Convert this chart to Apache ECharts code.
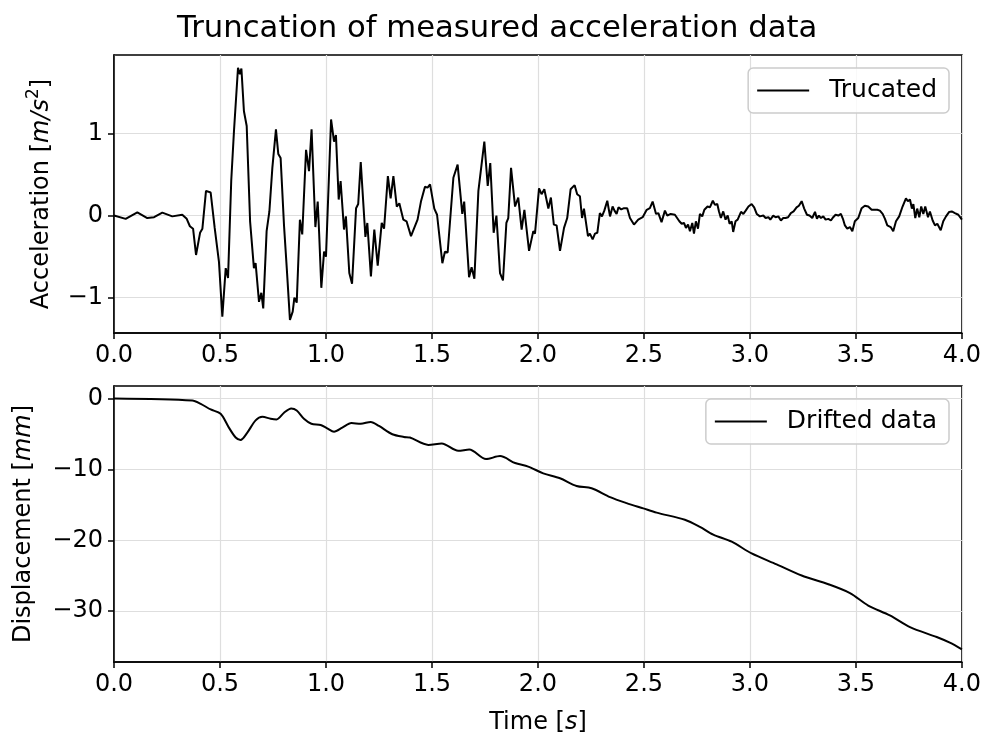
<!DOCTYPE html>
<html>
<head>
<meta charset="utf-8">
<script src="https://cdn.jsdelivr.net/npm/echarts@6/dist/echarts.min.js"></script>
<style>
html,body{margin:0;padding:0;background:#fff;}
#chart{width:984px;height:736px;}
</style>
</head>
<body>
<div id="chart"></div>
<script>
// ---- Data ----
var titleText = 'Truncation of measured acceleration data';
var accelName = 'Trucated';
var dispName = 'Drifted data';

var accelTime = [
  0, 0.055, 0.11, 0.157, 0.189, 0.228, 0.275, 0.322, 0.343, 0.358,
  0.373, 0.387, 0.406, 0.417, 0.434, 0.456, 0.475, 0.495, 0.511, 0.527,
  0.538, 0.553, 0.566, 0.585, 0.594, 0.601, 0.613, 0.626, 0.642, 0.660,
  0.668, 0.684, 0.695, 0.704, 0.720, 0.733, 0.747, 0.764, 0.775, 0.786,
  0.802, 0.815, 0.830, 0.843, 0.851, 0.862, 0.877, 0.888, 0.906, 0.920,
  0.932, 0.950, 0.961, 0.968, 0.978, 0.991, 1.000, 1.024, 1.038, 1.047,
  1.060, 1.069, 1.085, 1.094, 1.110, 1.123, 1.142, 1.152, 1.164, 1.186,
  1.195, 1.212, 1.228, 1.244, 1.263, 1.274, 1.292, 1.305, 1.318, 1.334,
  1.346, 1.365, 1.380, 1.389, 1.401, 1.432, 1.448, 1.467, 1.479, 1.491,
  1.511, 1.524, 1.549, 1.561, 1.574, 1.601, 1.621, 1.643, 1.652, 1.675,
  1.687, 1.700, 1.719, 1.747, 1.763, 1.775, 1.791, 1.804, 1.821, 1.835,
  1.851, 1.860, 1.873, 1.892, 1.907, 1.923, 1.936, 1.958, 1.978, 1.986,
  2.005, 2.017, 2.030, 2.049, 2.061, 2.075, 2.088, 2.104, 2.123, 2.138,
  2.154, 2.173, 2.185, 2.198, 2.208, 2.217, 2.236, 2.245, 2.258, 2.269,
  2.280, 2.292, 2.302, 2.313, 2.327, 2.340, 2.352, 2.361, 2.371, 2.380,
  2.393, 2.406, 2.421, 2.434, 2.453, 2.473, 2.494, 2.513, 2.528, 2.541,
  2.557, 2.568, 2.583, 2.599, 2.610, 2.626, 2.646, 2.667, 2.678, 2.689,
  2.698, 2.708, 2.717, 2.728, 2.736, 2.745, 2.755, 2.764, 2.775, 2.785,
  2.800, 2.811, 2.825, 2.835, 2.846, 2.854, 2.863, 2.874, 2.885, 2.895,
  2.904, 2.914, 2.921, 2.932, 2.942, 2.958, 2.969, 2.980, 2.993, 3.008,
  3.020, 3.032, 3.047, 3.063, 3.074, 3.087, 3.096, 3.110, 3.121, 3.134,
  3.146, 3.157, 3.168, 3.180, 3.193, 3.206, 3.220, 3.231, 3.244, 3.256,
  3.269, 3.281, 3.294, 3.307, 3.316, 3.325, 3.335, 3.346, 3.357, 3.370,
  3.382, 3.393, 3.404, 3.417, 3.429, 3.440, 3.448, 3.459, 3.472, 3.483,
  3.495, 3.511, 3.527, 3.542, 3.558, 3.574, 3.590, 3.601, 3.613, 3.626,
  3.637, 3.648, 3.664, 3.676, 3.689, 3.704, 3.720, 3.736, 3.745, 3.755,
  3.764, 3.771, 3.780, 3.789, 3.799, 3.808, 3.818, 3.827, 3.840, 3.849,
  3.862, 3.873, 3.884, 3.900, 3.912, 3.925, 3.940, 3.952, 3.967, 3.983,
  4.0
];
var accelValue = [
  0.00, -0.04, 0.04, -0.03, -0.02, 0.035, -0.01, 0.01, -0.04, -0.13,
  -0.16, -0.48, -0.21, -0.16, 0.30, 0.28, -0.15, -0.56, -1.23, -0.64,
  -0.76, 0.42, 1.03, 1.80, 1.72, 1.79, 1.27, 1.09, -0.07, -0.64,
  -0.58, -1.05, -0.94, -1.13, -0.19, 0.05, 0.58, 1.05, 0.75, 0.70,
  -0.12, -0.64, -1.27, -1.17, -1.00, -1.06, -0.05, -0.23, 0.80, 0.54,
  1.05, -0.14, 0.17, -0.23, -0.88, -0.44, -0.50, 1.17, 0.90, 0.98,
  0.195, 0.42, -0.17, -0.01, -0.70, -0.83, 0.09, 0.14, 0.65, -0.26,
  -0.09, -0.74, -0.17, -0.61, -0.09, -0.16, 0.48, 0.21, 0.48, 0.11,
  0.15, -0.05, -0.07, -0.08, -0.25, -0.05, 0.17, 0.35, 0.34, 0.38,
  0.085, 0.01, -0.58, -0.44, -0.45, 0.46, 0.62, 0.02, 0.17, -0.75,
  -0.63, -0.77, 0.30, 0.90, 0.36, 0.64, -0.21, 0.00, -0.70, -0.79,
  -0.09, -0.03, 0.58, 0.11, 0.22, -0.17, 0.07, -0.43, -0.19, -0.22,
  0.33, 0.26, 0.32, 0.085, 0.22, -0.11, -0.12, -0.43, -0.15, -0.03,
  0.32, 0.37, 0.26, 0.235, -0.03, 0.085, -0.25, -0.22, -0.29, -0.22,
  -0.21, 0.03, -0.01, 0.06, 0.18, -0.01, 0.11, 0.06, 0.02, 0.10,
  0.075, 0.09, 0.09, -0.03, -0.11, -0.05, -0.02, 0.07, 0.09, 0.17,
  0.02, 0.03, -0.08, 0.06, 0.00, 0.02, 0.01, -0.07, -0.10, -0.09,
  -0.15, -0.11, -0.19, -0.09, -0.22, -0.07, -0.16, 0.02, -0.01, 0.07,
  0.11, 0.10, 0.18, 0.13, 0.14, 0.05, -0.03, 0.05, -0.05, 0.00,
  -0.10, -0.07, -0.20, -0.07, -0.05, 0.045, 0.02, 0.06, 0.11, 0.14,
  0.10, 0.02, -0.01, 0.00, -0.03, -0.02, -0.05, 0.00, -0.02, -0.01,
  -0.06, -0.03, -0.03, -0.02, 0.03, 0.05, 0.10, 0.12, 0.175, 0.085,
  0.01, 0.00, -0.03, 0.045, -0.04, 0.00, -0.03, -0.01, -0.05, -0.04,
  -0.06, -0.02, 0.01, 0.00, 0.02, -0.05, -0.12, -0.16, -0.14, -0.19,
  -0.07, -0.03, 0.09, 0.12, 0.11, 0.07, 0.07, 0.07, 0.06, 0.02,
  -0.04, -0.12, -0.14, -0.19, -0.07, -0.01, 0.11, 0.21, 0.175, 0.195,
  0.085, 0.14, -0.03, 0.085, -0.02, 0.11, 0.02, 0.11, -0.02, 0.05,
  -0.06, -0.12, -0.10, -0.18, -0.07, -0.01, 0.045, 0.05, 0.03, 0.01,
  -0.05
];

var dispTime = [
  0, 0.369, 0.409, 0.456, 0.503, 0.542, 0.574, 0.597, 0.629, 0.668,
  0.700, 0.739, 0.767, 0.802, 0.836, 0.862, 0.896, 0.931, 0.975, 1.006,
  1.038, 1.077, 1.120, 1.164, 1.211, 1.250, 1.313, 1.368, 1.396, 1.483,
  1.546, 1.624, 1.676, 1.755, 1.821, 1.892, 1.954, 2.025, 2.104, 2.182,
  2.253, 2.340, 2.418, 2.497, 2.560, 2.693, 2.764, 2.827, 2.914, 3.008,
  3.126, 3.244, 3.370, 3.472, 3.558, 3.660, 3.755, 3.881, 3.943, 4.0
];
var dispValue = [
  0, -0.28, -0.75, -1.54, -2.15, -4.1, -5.5, -5.84, -4.8, -3.08,
  -2.57, -2.85, -2.94, -2.0, -1.40, -1.68, -2.85, -3.55, -3.73, -4.2,
  -4.67, -4.1, -3.46, -3.55, -3.31, -3.87, -5.04, -5.42, -5.5, -6.54,
  -6.35, -7.38, -7.19, -8.54, -8.12, -9.10, -9.6, -10.55, -11.25, -12.33,
  -12.65, -13.9, -14.75, -15.5, -16.1, -17.1, -18.1, -19.2, -20.2, -21.85,
  -23.4, -24.97, -26.2, -27.45, -29.2, -30.6, -32.25, -33.65, -34.45, -35.4
];

var accelTicks = [-1, 0, 1];
var dispTicks = [-30, -20, -10, 0];

// ---- Chart ----
var FONT = '"DejaVu Sans", sans-serif';
var FS = 24;
var LFS = 25;

function pairs(xs, ys) {
  var out = [];
  var n = Math.min(xs.length, ys.length);
  for (var i = 0; i < n; i++) out.push([xs[i], ys[i]]);
  return out;
}
function minusFmt(v) {
  return (v < 0 ? '\u2212' : '') + String(Math.abs(v));
}

var richBase = {
  t: { fontSize: FS, fontFamily: FONT, color: '#000', lineHeight: 29, verticalAlign: 'bottom' },
  i: { fontSize: FS, fontFamily: FONT, fontStyle: 'italic', color: '#000', lineHeight: 29, verticalAlign: 'bottom' },
  s: { fontSize: 17, fontFamily: FONT, color: '#000', lineHeight: 17, verticalAlign: 'top' }
};

function xAxisCfg(gridIndex, withName) {
  var cfg = {
    type: 'value', gridIndex: gridIndex, min: 0, max: 4, interval: 0.5,
    axisLine: { show: true, onZero: false, lineStyle: { color: '#000', width: 1.5 } },
    axisTick: { show: true, length: 6, lineStyle: { color: '#000', width: 1.5 } },
    axisLabel: { color: '#000', fontSize: FS, fontFamily: FONT, margin: 11,
      formatter: function (v) { return v.toFixed(1); } },
    splitLine: { show: true, lineStyle: { color: '#dedede', width: 1.2 } }
  };
  if (withName) {
    cfg.name = '{t|Time [}{i|s}{t|]}';
    cfg.nameLocation = 'middle';
    cfg.nameGap = 44;
    cfg.nameTextStyle = { rich: richBase };
  }
  return cfg;
}
function yAxisCfg(gridIndex, min, max, ticks, name, gap) {
  return {
    type: 'value', gridIndex: gridIndex, min: min, max: max,
    name: name, nameLocation: 'middle', nameGap: gap,
    nameTextStyle: { rich: richBase },
    axisLine: { show: true, onZero: false, lineStyle: { color: '#000', width: 1.5 } },
    axisTick: { show: true, length: 6, customValues: ticks, lineStyle: { color: '#000', width: 1.5 } },
    axisLabel: { color: '#000', fontSize: FS, fontFamily: FONT, margin: 11,
      customValues: ticks, formatter: minusFmt },
    splitLine: { show: true, lineStyle: { color: '#dedede', width: 1.2 } }
  };
}
function legendCfg(name, top) {
  return {
    data: [name], right: 35, top: top, orient: 'horizontal',
    icon: 'rect', itemWidth: 52, itemHeight: 2,
    textStyle: { color: '#000', fontSize: LFS, fontFamily: FONT, padding: [0, 0, 0, 15] },
    borderColor: '#cccccc', borderWidth: 1.5, borderRadius: 5,
    padding: [10, 12, 10, 9], backgroundColor: 'rgba(255,255,255,0.8)'
  };
}

var chart = echarts.init(document.getElementById('chart'), null, { renderer: 'canvas' });
chart.setOption({
  animation: false,
  backgroundColor: '#fff',
  title: {
    text: titleText, left: 172, top: 9,
    textStyle: { fontFamily: FONT, fontSize: 30.7, fontWeight: 'normal', color: '#000' }
  },
  grid: [
    { left: 114, width: 848, top: 55, height: 278, show: true, borderColor: '#000', borderWidth: 1.5, backgroundColor: 'transparent' },
    { left: 114, width: 848, top: 386, height: 278, show: true, borderColor: '#000', borderWidth: 1.5, backgroundColor: 'transparent' }
  ],
  legend: [legendCfg(accelName, 68), legendCfg(dispName, 399)],
  xAxis: [xAxisCfg(0, false), xAxisCfg(1, true)],
  yAxis: [
    yAxisCfg(0, -1.43, 1.955, accelTicks, '{t|Acceleration [}{i|m/s}{s|2}{t|]}', 60),
    yAxisCfg(1, -37.17, 1.77, dispTicks, '{t|Displacement [}{i|mm}{t|]}', 78)
  ],
  series: [
    { name: accelName, type: 'line', xAxisIndex: 0, yAxisIndex: 0, symbol: 'none',
      data: pairs(accelTime, accelValue), color: '#000', lineStyle: { color: '#000', width: 2 } },
    { name: dispName, type: 'line', xAxisIndex: 1, yAxisIndex: 1, symbol: 'none', smooth: 0.3,
      data: pairs(dispTime, dispValue), color: '#000', lineStyle: { color: '#000', width: 2 } }
  ]
});
</script>
</body>
</html>
